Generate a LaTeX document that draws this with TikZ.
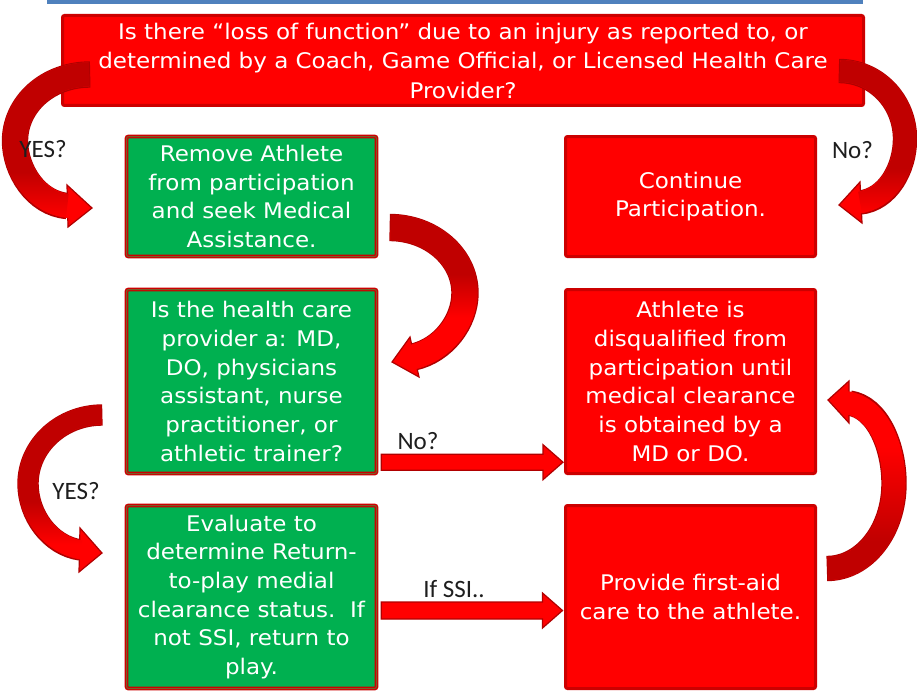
\documentclass[tikz,border=0pt]{standalone}
\usepackage{fontspec}
\newfontfamily\boxfont{DejaVu Sans}[FakeStretch=1.07]
\newfontfamily\lblfont{Carlito}
\usetikzlibrary{calc,fadings}
\definecolor{bred}{HTML}{FF0000}
\definecolor{bborder}{HTML}{CC0000}
\definecolor{ggreen}{HTML}{00B050}
\definecolor{gline}{HTML}{7A5C28}
\definecolor{dred}{HTML}{C00000}
\definecolor{aborder}{HTML}{B00000}
\definecolor{bbar}{HTML}{4F81BD}
\definecolor{lblc}{HTML}{1E1E1E}
\pgfdeclareverticalshading{shA}{100bp}{rgb(0bp)=(0,0,0); rgb(25bp)=(0,0,0); rgb(40bp)=(1,1,1); rgb(100bp)=(1,1,1)}
\pgfdeclarefading{fadeA}{\pgfuseshading{shA}}
\pgfdeclareverticalshading{shC}{100bp}{rgb(0bp)=(0,0,0); rgb(42bp)=(0,0,0); rgb(56bp)=(1,1,1); rgb(100bp)=(1,1,1)}
\pgfdeclarefading{fadeC}{\pgfuseshading{shC}}
\pgfdeclareverticalshading{shD}{100bp}{rgb(0bp)=(0,0,0); rgb(30bp)=(0,0,0); rgb(44bp)=(1,1,1); rgb(100bp)=(1,1,1)}
\pgfdeclarefading{fadeD}{\pgfuseshading{shD}}
\pgfdeclareverticalshading{shE}{100bp}{rgb(0bp)=(1,1,1); rgb(35bp)=(1,1,1); rgb(60bp)=(0,0,0); rgb(100bp)=(0,0,0)}
\pgfdeclarefading{fadeE}{\pgfuseshading{shE}}
\newcommand\curvedarrow[4]{%
  \draw[aborder, line width=#1+2.4pt, shorten <=-1.2pt] #3;
  \filldraw[fill=bred, draw=aborder, line width=1.2pt, line join=miter] #4;
  \draw[bred, line width=#1, shorten >=-3pt] #3;
  \draw[dred, line width=#1, path fading=#2] #3;
}
\begin{document}
\begin{tikzpicture}[x=1pt,y=-1pt,
  boxtext/.style={text=white, align=center, inner sep=0pt, font=\boxfont\fontsize{21.5}{28.7}\selectfont},
  redbox/.style={boxtext, fill=bred, draw=bborder, line width=3pt, rounded corners=2pt},
  greenbox/.style={boxtext, fill=ggreen, draw=bborder, line width=1.4pt, double=gline, double distance=1pt, rounded corners=2pt},
  lbl/.style={text=lblc, inner sep=0pt, font=\lblfont\fontsize{25}{30}\selectfont},
  sarrow/.style={fill=bred, draw=aborder, line width=1.2pt, line join=miter}]
\useasboundingbox (0,0) rectangle (917,690);
\clip (0,0) rectangle (917,690);
\fill[bbar] (47,0) rectangle (863,4);
% boxes
\node[redbox, minimum width=801pt, minimum height=90pt, font=\boxfont\fontsize{21.5}{29.5}\selectfont] (q) at (463,60.5)
  {Is there “loss of function” due to an injury as reported to, or\\determined by a Coach, Game Official, or Licensed Health Care\\Provider?};
\node[greenbox, minimum width=250pt, minimum height=120pt] (g1) at (251.5,196.5)
  {Remove Athlete\\from participation\\and seek Medical\\Assistance.};
\node[redbox, minimum width=250pt, minimum height=120pt] (r1) at (690.5,196.5)
  {Continue\\Participation.};
\node[greenbox, minimum width=250pt, minimum height=184pt] (g2) at (251.5,381.5)
  {Is the health care\\provider a: MD,\\DO, physicians\\assistant, nurse\\practitioner, or\\athletic trainer?};
\node[redbox, minimum width=250pt, minimum height=184pt] (r2) at (690.5,381.5)
  {Athlete is\\disqualified from\\participation until\\medical clearance\\is obtained by a\\MD or DO.};
\node[greenbox, minimum width=250pt, minimum height=183pt] (g3) at (251.5,597)
  {Evaluate to\\determine Return-\\to-play medial\\clearance status.\ \ If\\not SSI, return to\\play.};
\node[redbox, minimum width=250pt, minimum height=183pt] (r3) at (690.5,597)
  {Provide first-aid\\care to the athlete.};
% curved arrows
\coordinate (aS) at ($(q.west)+(28,14)$);
\coordinate (aM) at (15,141);
\coordinate (aE) at ($(g1.west)+(-58.5,9.5)$);
\curvedarrow{24pt}{fadeA}{(aS) .. controls +(-41.4,0) and +(0,-36.7) .. (aM) .. controls +(0,28.9) and +(-31.5,-2.5) .. (aE)}
  {(67,185) -- (92,208) -- (68,227) -- cycle}
\coordinate (bS) at (840,71);
\coordinate (bM) at (905,139);
\coordinate (bE) at ($(r1.east)+(43,6)$);
\curvedarrow{22pt}{fadeA}{(bS) .. controls +(35.9,0) and +(0,-37.6) .. (bM) .. controls +(0,29.1) and +(28,-3) .. (bE)}
  {(860,182) -- (839,205) -- (862,223) -- cycle}
\coordinate (cS) at ($(g1.east)+(13.6,31)$);
\coordinate (cM) at (465,293);
\coordinate (cE) at ($(g2.east)+(36.1,-24.5)$);
\curvedarrow{25pt}{fadeC}{(cS) .. controls +(40.3,0) and +(0,-36.2) .. (cM) .. controls +(0,28.5) and +(30,-6.6) .. (cE)}
  {(410,337) -- (392,362) -- (419,377) -- cycle}
\coordinate (dS) at ($(g2.west)+(-24.6,33.5)$);
\coordinate (dM) at (28,483.8);
\coordinate (dE) at ($(g3.west)+(-45.1,-47)$);
\curvedarrow{19pt}{fadeD}{(dS) .. controls +(-39.8,0) and +(0,-38) .. (dM) .. controls +(0,30.7) and +(-31,-4.3) .. (dE)}
  {(80,528) -- (102,553) -- (79,572) -- cycle}
\coordinate (eS) at ($(r3.east)+(11,-28.5)$);
\coordinate (eM) at (894,483.5);
\coordinate (eE) at ($(r2.east)+(32,21.5)$);
\curvedarrow{23pt}{fadeE}{(eS) .. controls +(36.5,0) and +(0,46.9) .. (eM) .. controls +(0,-36.5) and +(29,4) .. (eE)}
  {(849,381) -- (828,400) -- (849,423) -- cycle}
% straight arrows
\coordinate (nS) at ($(g2.south east)+(4,-12)$);
\coordinate (nE) at ($(nS -| r2.west)+(-1,0)$);
\filldraw[sarrow] ($(nS)+(0,-8)$) -- ($(nE)+(-20,-8)$) -- ($(nE)+(-20,-17.5)$) -- (nE)
  -- ($(nE)+(-20,17.5)$) -- ($(nE)+(-20,8)$) -- ($(nS)+(0,8)$) -- cycle;
\coordinate (sS) at ($(g3.east)+(4,13.5)$);
\coordinate (sE) at ($(sS -| r3.west)+(-1.5,0)$);
\filldraw[sarrow] ($(sS)+(0,-8.5)$) -- ($(sE)+(-20,-8.5)$) -- ($(sE)+(-20,-17.5)$) -- (sE)
  -- ($(sE)+(-20,17.5)$) -- ($(sE)+(-20,8.5)$) -- ($(sS)+(0,8.5)$) -- cycle;
% labels
\node[lbl] (yes1) at (43,149) {YES?};
\node[lbl] (no1) at (852.5,150) {No?};
\node[lbl] (yes2) at (76,491) {YES?};
\node[lbl] (no2) at (418,441.5) {No?};
\node[lbl] (ssi) at (454,589) {If SSI..};
\end{tikzpicture}
\end{document}
